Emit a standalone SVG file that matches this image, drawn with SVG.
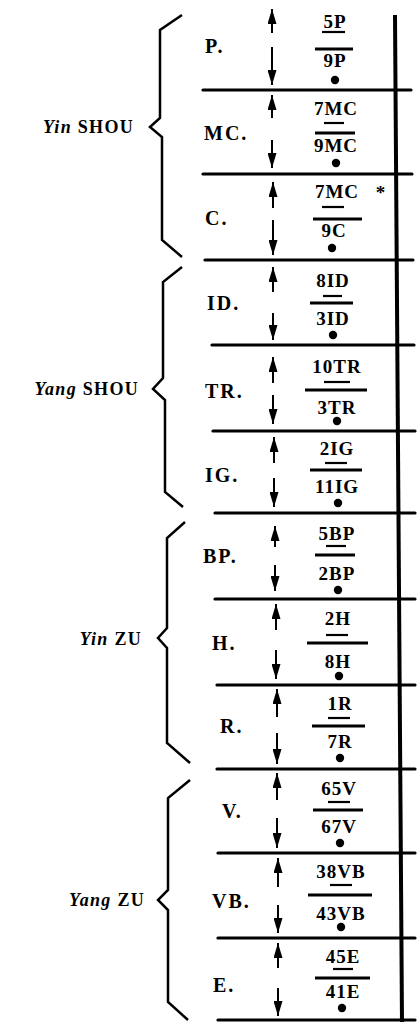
<svg xmlns="http://www.w3.org/2000/svg" width="418" height="1022" viewBox="0 0 418 1022">
<defs>
<marker id="ah" viewBox="0 0 15 9" refX="15" refY="4.5" markerWidth="15" markerHeight="9" orient="auto" markerUnits="userSpaceOnUse">
<path d="M0,0 L15,4.5 L0,9 Z" fill="#000"/>
</marker>
</defs>
<style>
text{font-family:"Liberation Serif","Times New Roman",serif;font-weight:bold;fill:#000}
.lab{font-size:20px;letter-spacing:2px}
.fr{font-size:19px;letter-spacing:1px;text-anchor:middle}
.grp{font-size:18px;letter-spacing:1.3px;text-anchor:end}
.grp tspan.i{font-style:italic}
.hl{stroke:#000;stroke-width:3.2;stroke-linecap:round;fill:none}
.vl{stroke:#000;stroke-width:4;fill:none}
.br{stroke:#000;stroke-width:2.5;fill:none;stroke-linejoin:miter}
.arr{stroke:#000;stroke-width:2;fill:none;marker-end:url(#ah)}
.sl{stroke:#000;stroke-width:2.2}
.bar{stroke:#000;stroke-width:3}
</style>
<rect width="418" height="1022" fill="#fff"/>

<g id="grid">
<line class="vl" x1="395" y1="15" x2="402" y2="1022"/>
<line class="hl" x1="203" y1="90" x2="411" y2="90"/>
<line class="hl" x1="203" y1="174" x2="412" y2="174"/>
<line class="hl" x1="205" y1="260" x2="413" y2="260"/>
<line class="hl" x1="212" y1="345" x2="414" y2="345"/>
<line class="hl" x1="213" y1="431" x2="415" y2="431"/>
<line class="hl" x1="215" y1="513" x2="415" y2="513"/>
<line class="hl" x1="215" y1="599" x2="415" y2="599"/>
<line class="hl" x1="217" y1="685" x2="415" y2="685"/>
<line class="hl" x1="217" y1="769" x2="415" y2="769"/>
<line class="hl" x1="218" y1="853" x2="415" y2="853"/>
<line class="hl" x1="218" y1="938" x2="415" y2="938"/>
<line class="hl" x1="218" y1="1020" x2="415" y2="1020"/>
</g>

<g id="group-yin-shou">
<path class="br" d="M182,15 L160,30 L160,118 L150,127 L162,137 L162,240 L182,257"/>
<text class="grp" x="134" y="133"><tspan class="i">Yin</tspan> SHOU</text>
</g>
<g id="group-yang-shou">
<path class="br" d="M182,267 L163,282 L163,378 L153,389 L165,400 L165,492 L183,507"/>
<text class="grp" x="139" y="395"><tspan class="i">Yang</tspan> SHOU</text>
</g>
<g id="group-yin-zu">
<path class="br" d="M185,522 L167,538 L167,628 L158,638 L167,648 L167,743 L190,763"/>
<text class="grp" x="142" y="645"><tspan class="i">Yin</tspan> ZU</text>
</g>
<g id="group-yang-zu">
<path class="br" d="M190,780 L168,798 L168,890 L158,900 L168,910 L168,1002 L188,1020"/>
<text class="grp" x="145" y="906"><tspan class="i">Yang</tspan> ZU</text>
</g>

<g id="connectors">
<line class="arr" x1="272" y1="33" x2="272" y2="9"/>
<line class="arr" x1="272" y1="47" x2="272" y2="85"/>
<line class="arr" x1="272" y1="118" x2="272" y2="95"/>
<line class="arr" x1="272" y1="140" x2="272" y2="168"/>
<line class="arr" x1="273" y1="208" x2="273" y2="182"/>
<line class="arr" x1="273" y1="220" x2="273" y2="255"/>
<line class="arr" x1="273" y1="292" x2="273" y2="267"/>
<line class="arr" x1="273" y1="313" x2="273" y2="340"/>
<line class="arr" x1="273" y1="383" x2="273" y2="357"/>
<line class="arr" x1="273" y1="395" x2="273" y2="424"/>
<line class="arr" x1="274" y1="463" x2="274" y2="437"/>
<line class="arr" x1="274" y1="478" x2="274" y2="507"/>
<line class="arr" x1="275" y1="547" x2="275" y2="526"/>
<line class="arr" x1="275" y1="565" x2="275" y2="591"/>
<line class="arr" x1="276" y1="630" x2="276" y2="604"/>
<line class="arr" x1="276" y1="650" x2="276" y2="679"/>
<line class="arr" x1="277" y1="717" x2="277" y2="689"/>
<line class="arr" x1="277" y1="733" x2="277" y2="764"/>
<line class="arr" x1="277" y1="800" x2="277" y2="773"/>
<line class="arr" x1="277" y1="818" x2="277" y2="848"/>
<line class="arr" x1="278" y1="887" x2="278" y2="858"/>
<line class="arr" x1="278" y1="905" x2="278" y2="933"/>
<line class="arr" x1="278" y1="968" x2="278" y2="943"/>
<line class="arr" x1="278" y1="988" x2="278" y2="1016"/>
</g>

<g id="row-P">
<text class="lab" x="205" y="53">P.</text>
<text class="fr" x="335" y="28">5P</text>
<line class="sl" x1="322" y1="32" x2="345" y2="32"/>
<line class="bar" x1="315" y1="49" x2="353" y2="49"/>
<text class="fr" x="335" y="67">9P</text>
<circle cx="335" cy="80" r="4.2"/>
</g>
<g id="row-MC">
<text class="lab" x="204" y="140">MC.</text>
<text class="fr" x="336" y="115">7MC</text>
<line class="sl" x1="324" y1="123" x2="344" y2="123"/>
<line class="bar" x1="315" y1="133" x2="355" y2="133"/>
<text class="fr" x="336" y="152">9MC</text>
<circle cx="336" cy="163" r="4.2"/>
</g>
<g id="row-C">
<text class="lab" x="205" y="225">C.</text>
<text class="fr" x="337" y="198">7MC</text>
<text class="fr" x="381" y="199">*</text>
<line class="sl" x1="322" y1="207" x2="344" y2="207"/>
<line class="bar" x1="313" y1="219" x2="362" y2="219"/>
<text class="fr" x="334" y="237">9C</text>
<circle cx="332" cy="248" r="4.2"/>
</g>
<g id="row-ID">
<text class="lab" x="207" y="310">ID.</text>
<text class="fr" x="333" y="287">8ID</text>
<line class="sl" x1="323" y1="296" x2="342" y2="296"/>
<line class="bar" x1="310" y1="303" x2="353" y2="303"/>
<text class="fr" x="333" y="325">3ID</text>
<circle cx="333" cy="335" r="4.2"/>
</g>
<g id="row-TR">
<text class="lab" x="205" y="398">TR.</text>
<text class="fr" x="337" y="373">10TR</text>
<line class="sl" x1="324" y1="382" x2="350" y2="382"/>
<line class="bar" x1="305" y1="390" x2="367" y2="390"/>
<text class="fr" x="337" y="414">3TR</text>
<circle cx="337" cy="421" r="4.2"/>
</g>
<g id="row-IG">
<text class="lab" x="205" y="482">IG.</text>
<text class="fr" x="337" y="455">2IG</text>
<line class="sl" x1="325" y1="463" x2="347" y2="463"/>
<line class="bar" x1="310" y1="470" x2="362" y2="470"/>
<text class="fr" x="337" y="493">11IG</text>
<circle cx="338" cy="503" r="4.2"/>
</g>
<g id="row-BP">
<text class="lab" x="203" y="563">BP.</text>
<text class="fr" x="337" y="540">5BP</text>
<line class="sl" x1="326" y1="546" x2="346" y2="546"/>
<line class="bar" x1="315" y1="555" x2="355" y2="555"/>
<text class="fr" x="337" y="580">2BP</text>
<circle cx="338" cy="590" r="4.2"/>
</g>
<g id="row-H">
<text class="lab" x="212" y="650">H.</text>
<text class="fr" x="338" y="625">2H</text>
<line class="sl" x1="326" y1="635" x2="348" y2="635"/>
<line class="bar" x1="307" y1="643" x2="368" y2="643"/>
<text class="fr" x="338" y="668">8H</text>
<circle cx="339" cy="676" r="4.2"/>
</g>
<g id="row-R">
<text class="lab" x="220" y="733">R.</text>
<text class="fr" x="340" y="710">1R</text>
<line class="sl" x1="328" y1="718" x2="350" y2="718"/>
<line class="bar" x1="312" y1="726" x2="365" y2="726"/>
<text class="fr" x="340" y="748">7R</text>
<circle cx="340" cy="758" r="4.2"/>
</g>
<g id="row-V">
<text class="lab" x="222" y="818">V.</text>
<text class="fr" x="339" y="795">65V</text>
<line class="sl" x1="328" y1="802" x2="350" y2="802"/>
<line class="bar" x1="313" y1="810" x2="363" y2="810"/>
<text class="fr" x="339" y="833">67V</text>
<circle cx="340" cy="843" r="4.2"/>
</g>
<g id="row-VB">
<text class="lab" x="212" y="908">VB.</text>
<text class="fr" x="341" y="878">38VB</text>
<line class="sl" x1="330" y1="885" x2="352" y2="885"/>
<line class="bar" x1="308" y1="895" x2="372" y2="895"/>
<text class="fr" x="341" y="920">43VB</text>
<circle cx="341" cy="927" r="4.2"/>
</g>
<g id="row-E">
<text class="lab" x="213" y="992">E.</text>
<text class="fr" x="343" y="963">45E</text>
<line class="sl" x1="333" y1="969" x2="353" y2="969"/>
<line class="bar" x1="315" y1="978" x2="370" y2="978"/>
<text class="fr" x="343" y="998">41E</text>
<circle cx="342" cy="1008" r="4.2"/>
</g>
</svg>
